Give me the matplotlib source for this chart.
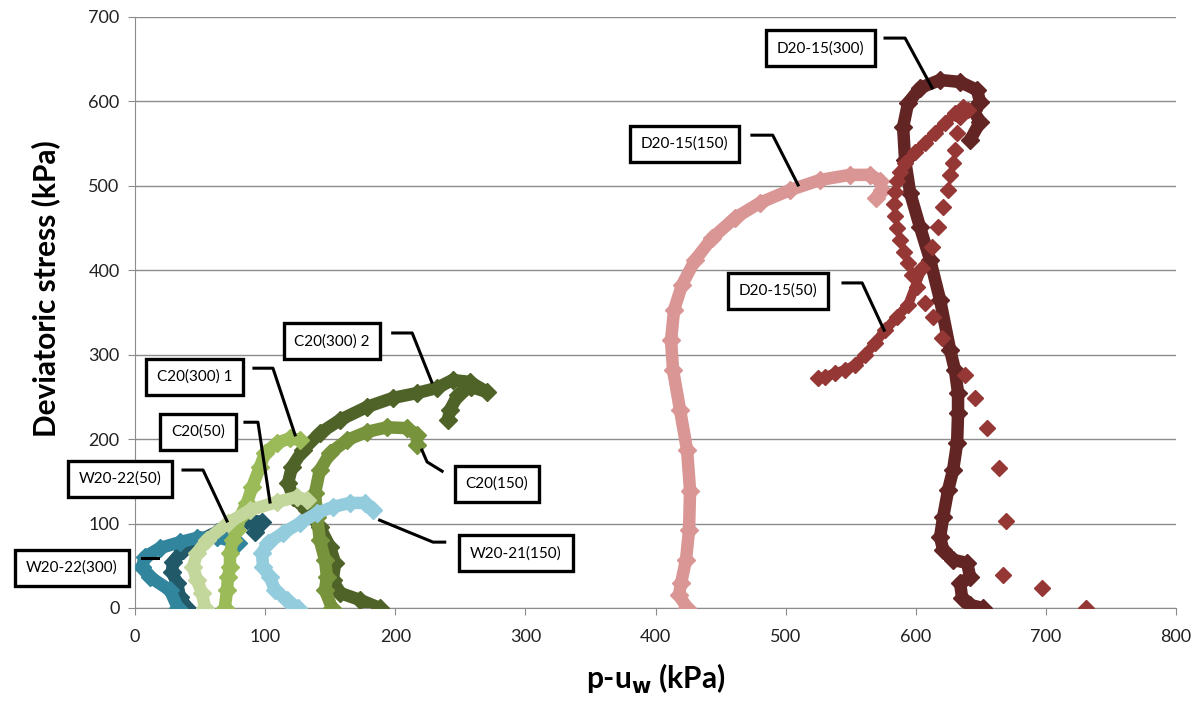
import numpy as np
import matplotlib
matplotlib.use("Agg")
from matplotlib import pyplot as plt

plt.rcParams['font.family'] = ['Lato', 'DejaVu Sans']

# stress paths: mean effective stress p-uw (kPa) vs deviatoric stress q (kPa)
w22_300_p = [33, 26.9, 11.5, 5.4, 7.7, 19.2, 34.6, 47.6, 63, 79]
w22_300_q = [0, 21, 36.7, 48.6, 60.6, 71, 78, 83, 84, 77]

w22_50_p = [40, 34.6, 32.3, 28.4, 29.2, 36.9, 50, 63, 73, 86, 97.6, 92]
w22_50_q = [0, 13, 29.6, 42.6, 54.5, 68.7, 80.5, 90, 98.3, 104, 102, 90]

c20_50_p = [53.8, 51.5, 47.6, 44.6, 47.6, 55.3, 71.5, 88.4, 109, 124.5, 132]
c20_50_q = [0, 18, 33, 48.6, 65, 80.5, 100.7, 116, 125.5, 131.5, 128]

c20_300a_p = [69, 70.7, 71.5, 73, 73, 75.3, 78.4, 80.7, 86, 90, 96, 100, 109, 119, 127]
c20_300a_q = [0, 21, 36.7, 48.6, 65, 80.5, 92, 108, 124, 143, 167, 183.6, 195.4, 201, 199]

w21_150_p = [125, 116.8, 107.6, 103.7, 98.4, 97.6, 102, 113.7, 126.8, 139.9, 152, 165, 176.7, 183]
w21_150_q = [0, 9.5, 21, 36.7, 48.6, 65, 77, 88.8, 100.7, 112.5, 119.6, 124.4, 124.4, 116]

c20_150_p = [151.4, 146, 147.5, 146, 142, 140, 138.3, 142, 150, 163, 178, 193.6, 209, 216.7, 216.7]
c20_150_q = [0, 21, 36.7, 57, 80.5, 108, 136, 163, 183.6, 199, 208.5, 214, 213, 205, 193]

c20_300b_p = [188, 173, 157.5, 152, 153.7, 150, 142, 132, 121.4, 117.6, 120.6, 129, 142,
              157.5, 178, 198, 216.7, 232, 244, 257.4, 270.5, 258, 248, 242, 240.5]
c20_300b_q = [0, 9.5, 17.8, 33, 53.3, 72, 96, 116, 131.5, 148, 167, 187, 207,
              222.7, 238, 248.7, 254.6, 260.6, 270, 267.7, 255.8, 262, 252, 234.5, 222.7]

d15_150_p = [424.2, 418, 419.6, 423.4, 425.7, 426.5, 424.2, 418.8, 413.4, 411.9, 414.2, 420.3,
             430.3, 443.4, 461, 480.3, 503.3, 526.4, 549.4, 564.8, 572.5, 574, 569.4]
d15_150_q = [0, 15.4, 29.6, 57, 92, 139, 187, 234.5, 282, 317, 353, 382.6,
             412, 438, 462, 480, 495, 507, 513, 513, 506, 495, 485.6]

d15_300_p = [651.6, 641.7, 635.5, 634, 641.7, 639.4, 628.6, 621, 618.6, 621, 624.8, 628.6,
             631.7, 632.4, 632.4, 630, 626.3, 618.6, 611, 603.2, 595.6, 591.7, 590.2, 594,
             603.2, 618.6, 634, 647, 649.3, 644, 649.3, 641.7]
d15_300_q = [0, 3.5, 12, 29.6, 36.7, 53.3, 57, 68.7, 84, 108, 139.8, 163.4,
             195.4, 231, 254.6, 282, 305.6, 364.8, 412, 451, 491.5, 530.6, 569.7, 598,
             616, 625.4, 623, 613.5, 599.3, 590, 575.6, 554.3]

d15_50_p = [731, 697, 667, 669, 664, 655, 645.5, 638, 620, 613, 607,
            601, 597, 594, 591, 588, 585.6, 584, 583.3, 584, 585.6, 588,
            591.7, 599.4, 607, 614.7, 622.5, 630, 636, 640,
            634, 631.7, 630, 628.6, 626.3, 624.8, 621, 617, 612.5, 604.8,
            594, 585.6, 576.4, 568.7, 561, 553.3, 545.6, 538, 530.2, 525]
d15_50_q = [0, 24, 39, 103, 166, 213, 249, 276, 320, 345, 361,
            380, 394.4, 408.6, 421.6, 435.9, 450, 464.3, 478.5, 492.7, 505.7, 516.4,
            527, 540, 551, 562.6, 574.4, 586, 593, 590,
            581.5, 562.6, 542.5, 527, 513, 495, 475, 451, 427.6, 402.7,
            359, 344.7, 329.3, 313.9, 299.7, 287.8, 281.9, 278.3, 273.6, 272.4]

# name, p, q, colour (drawing order: first is at the bottom)
series = [
    ("C20(300) 2", c20_300b_p, c20_300b_q, "#4F6228"),
    ("C20(150)", c20_150_p, c20_150_q, "#77933C"),
    ("W20-22(50)", w22_50_p, w22_50_q, "#215968"),
    ("W20-22(300)", w22_300_p, w22_300_q, "#31859C"),
    ("C20(300) 1", c20_300a_p, c20_300a_q, "#9BBB59"),
    ("C20(50)", c20_50_p, c20_50_q, "#C3D69B"),
    ("W20-21(150)", w21_150_p, w21_150_q, "#93CDDD"),
    ("D20-15(150)", d15_150_p, d15_150_q, "#D99694"),
    ("D20-15(300)", d15_300_p, d15_300_q, "#632523"),
]

# callout boxes: text, box centre, leader polyline (all in data units)
callouts = [
    ("D20-15(300)", (527, 663), [(576.3, 675), (591.7, 675), (612.5, 616)]),
    ("D20-15(150)", (422, 549.6), [(474, 560), (490, 560), (509.5, 501)]),
    ("D20-15(50)", (494, 375.5), [(544, 385), (558.7, 385), (575.6, 329)]),
    ("C20(300) 2", (151.4, 316), [(198, 325.7), (213, 325.7), (228, 267.7)]),
    ("C20(300) 1", (46, 273.6), [(91.4, 284), (106, 284), (123, 205)]),
    ("C20(50)", (48.4, 208.5), [(84.5, 220), (94.5, 220), (103.7, 125.5)]),
    ("W20-22(50)", (-11.5, 152.8), [(36.9, 163.4), (52.3, 163.4), (70.7, 103)]),
    ("W20-22(300)", (-48.4, 47.4), [(5.4, 59.2), (17.7, 59.2)]),
    ("C20(150)", (278, 146.9), [(220.5, 187), (224.4, 173), (236, 162)]),
    ("W20-21(150)", (292.8, 65), [(188, 104), (229, 78), (238, 78)]),
]

fig = plt.figure(figsize=(12.03, 7.13), dpi=100)
ax = fig.add_axes([0.1122, 0.1473, 0.8655, 0.8289])

for name, p, q, col in series:
    ax.plot(p, q, '-', color=col, lw=9, solid_joinstyle='round', solid_capstyle='round',
            marker='D', ms=9, mec=col, mfc=col, zorder=3)

# D20-15(50): sparse points after peak, dense bands drawn as a line too
red = "#953735"
ax.plot(d15_50_p[21:30], d15_50_q[21:30], '-', color=red, lw=7, solid_capstyle='round', zorder=4)
ax.plot(d15_50_p[39:], d15_50_q[39:], '-', color=red, lw=7, solid_capstyle='round', zorder=4)
ax.plot(d15_50_p, d15_50_q, 'D', color=red, ms=8, zorder=4)

for text, (bx, by), leader in callouts:
    lx, ly = zip(*leader)
    ax.plot(lx, ly, '-', color='black', lw=2.2, clip_on=False, zorder=6)
    ax.text(bx, by, text, ha='center', va='center', fontsize=11, zorder=7, clip_on=False,
            bbox=dict(boxstyle='square,pad=0.7', fc='white', ec='black', lw=2.4))

ax.set_xlim(0, 800)
ax.set_ylim(0, 700)
ax.set_xticks(np.arange(0, 801, 100))
ax.set_yticks(np.arange(0, 701, 100))
ax.yaxis.grid(True, color='#8c8c8c', lw=1)
ax.set_axisbelow(True)
for s in ['top', 'right']:
    ax.spines[s].set_visible(False)
for s in ['left', 'bottom']:
    ax.spines[s].set_color('#8c8c8c')
ax.tick_params(axis='both', colors='#8c8c8c', labelcolor='#222222', labelsize=13, length=5, direction='out')
ax.tick_params(axis='x', pad=10)
ax.tick_params(axis='y', pad=6)

ax.set_xlabel('p-u$_\\mathbf{w}$ (kPa)', fontsize=21.5, fontweight='bold', labelpad=12)
ax.set_ylabel('Deviatoric stress (kPa)', fontsize=21.5, fontweight='bold')
ax.yaxis.set_label_coords(-0.072, 0.54)

fig.savefig('out.png', dpi=100)
